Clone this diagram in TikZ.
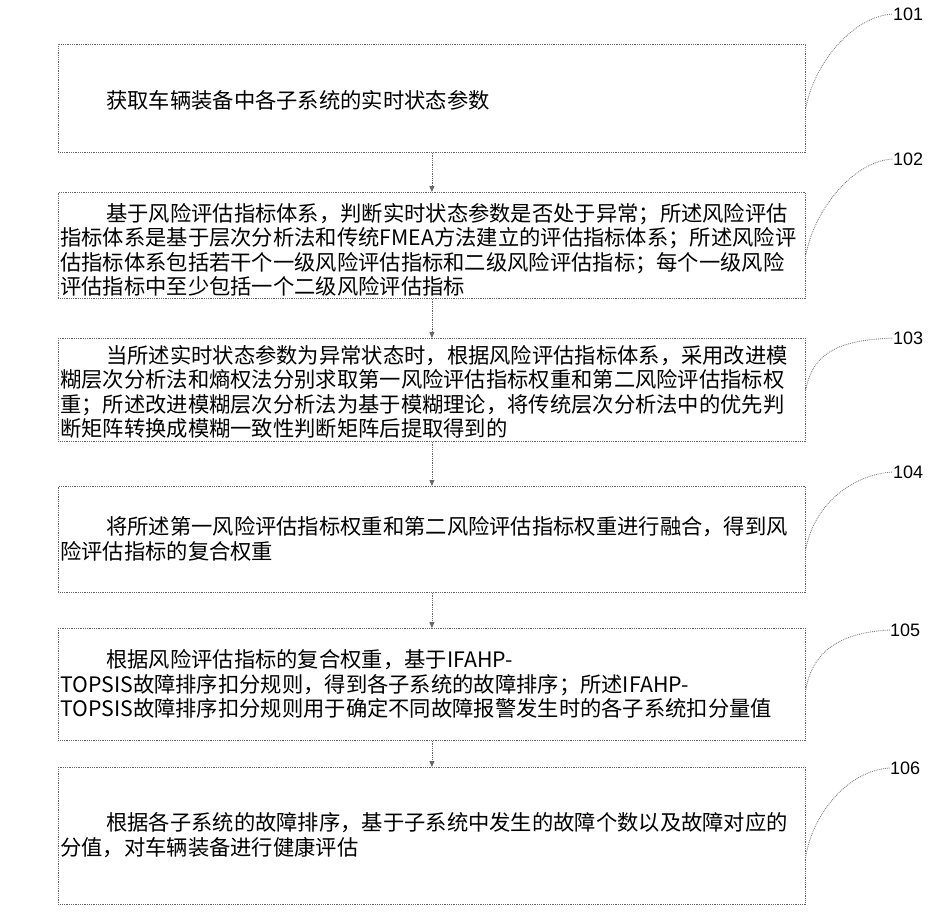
\documentclass[tikz,border=0pt]{standalone}
\usepackage{fontspec}
\newfontfamily\cjk{Noto Sans CJK SC}
\newfontfamily\labfont{Liberation Sans}
\usetikzlibrary{arrows.meta}
\begin{document}
\begin{tikzpicture}[x=1pt,y=-1pt,
 stepbox/.style={draw=black!60,densely dotted,line width=0.8pt},
 txt/.style={anchor=west,inner sep=0,font=\cjk\fontsize{21.3}{24.5}\selectfont,align=left},
 lab/.style={anchor=west,inner sep=0,font=\labfont\fontsize{18}{20}\selectfont},
 arr/.style={draw=black!60,densely dotted,line width=0.8pt,-{Triangle[length=6pt,width=5pt]}},
 lead/.style={draw=black!50,densely dotted,line width=0.9pt}]
\useasboundingbox (0,0) rectangle (950,922);
\node[stepbox,minimum width=747,minimum height=108,anchor=north west] (b1) at (58,44) {};
\node[stepbox,minimum width=747,minimum height=106,anchor=north west] (b2) at (58,192) {};
\node[stepbox,minimum width=747,minimum height=103,anchor=north west] (b3) at (58,338) {};
\node[stepbox,minimum width=747,minimum height=106,anchor=north west] (b4) at (58,486) {};
\node[stepbox,minimum width=747,minimum height=112,anchor=north west] (b5) at (58,628) {};
\node[stepbox,minimum width=747,minimum height=137,anchor=north west] (b6) at (58,767) {};
\foreach \a/\b in {b1/b2,b2/b3,b3/b4,b4/b5,b5/b6} \draw[arr] (\a.south) -- (\b.north);
\node[txt] (t1) at (106,100) {获取车辆装备中各子系统的实时状态参数};
\node[txt] (t2) at (60,250) {\hspace{46pt}基于风险评估指标体系，判断实时状态参数是否处于异常；所述风险评估\\指标体系是基于层次分析法和传统FMEA方法建立的评估指标体系；所述风险评\\估指标体系包括若干个一级风险评估指标和二级风险评估指标；每个一级风险\\评估指标中至少包括一个二级风险评估指标};
\node[txt] (t3) at (60,392) {\hspace{46pt}当所述实时状态参数为异常状态时，根据风险评估指标体系，采用改进模\\糊层次分析法和熵权法分别求取第一风险评估指标权重和第二风险评估指标权\\重；所述改进模糊层次分析法为基于模糊理论，将传统层次分析法中的优先判\\断矩阵转换成模糊一致性判断矩阵后提取得到的};
\node[txt] (t4) at (60,539) {\hspace{46pt}将所述第一风险评估指标权重和第二风险评估指标权重进行融合，得到风\\险评估指标的复合权重};
\node[txt] (t5) at (60,684) {\hspace{46pt}根据风险评估指标的复合权重，基于IFAHP-\\TOPSIS故障排序扣分规则，得到各子系统的故障排序；所述IFAHP-\\TOPSIS故障排序扣分规则用于确定不同故障报警发生时的各子系统扣分量值};
\node[txt] (t6) at (60,835) {\hspace{46pt}根据各子系统的故障排序，基于子系统中发生的故障个数以及故障对应的\\分值，对车辆装备进行健康评估};
\node[lab] (l1) at (893,14) {101};
\node[lab] (l2) at (893,159) {102};
\node[lab] (l3) at (893,338) {103};
\node[lab] (l4) at (893,472) {104};
\node[lab] (l5) at (890,630) {105};
\node[lab] (l6) at (890,768) {106};
\draw[lead] ([yshift=-10]b1.east) .. controls +(8,-45) and +(-40,2) .. (l1.west);
\draw[lead] ([yshift=-10]b2.east) .. controls +(8,-45) and +(-40,2) .. (l2.west);
\draw[lead] ([yshift=0]b3.east) .. controls +(8,-45) and +(-40,2) .. (l3.west);
\draw[lead] ([yshift=-10]b4.east) .. controls +(8,-45) and +(-40,2) .. (l4.west);
\draw[lead] ([yshift=-5]b5.east) .. controls +(8,-45) and +(-40,2) .. (l5.west);
\draw[lead] ([yshift=-20]b6.east) .. controls +(8,-45) and +(-40,2) .. (l6.west);
\end{tikzpicture}
\end{document}
